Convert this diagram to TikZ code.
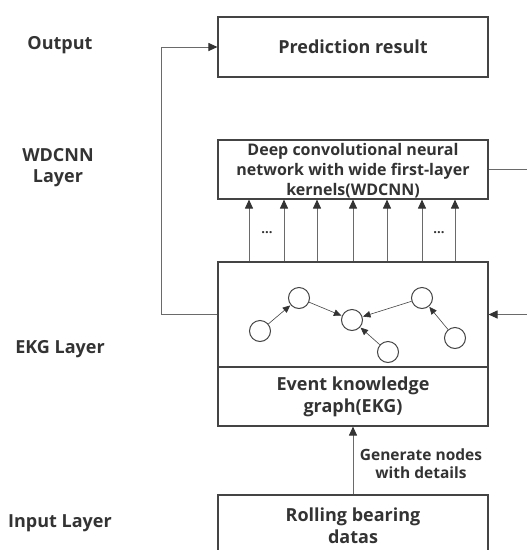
\documentclass[tikz,border=0pt]{standalone}
\usepackage{fontspec}
\setmainfont{Open Sans}
\usetikzlibrary{arrows.meta}
\definecolor{txt}{HTML}{333333}
\definecolor{edge}{HTML}{444444}
\definecolor{ln}{HTML}{6A6A6A}
\definecolor{tip}{HTML}{333333}
\begin{document}
\begin{tikzpicture}[x=1pt,y=-1pt,
  every node/.style={font=\bfseries\fontsize{18}{22}\selectfont, text=txt},
  box/.style={draw=edge, line width=1.1pt, minimum width=270pt, inner sep=0pt, align=center},
  lbl/.style={align=center},
  arr/.style={draw=ln, line width=1pt, -{Triangle[length=9pt,width=8pt,color=tip]}},
  plain/.style={draw=ln, line width=1pt},
  gnode/.style={draw=edge, circle, line width=1pt, minimum size=21pt, inner sep=0pt},
  garr/.style={draw=edge, line width=0.6pt, -{Triangle[length=7.5pt,width=6.5pt,color=tip]}, shorten >=0.5pt}
]
\clip (0,0) rectangle (527,550);
\fill[white] (0,0) rectangle (527,550);

% left labels
\node[lbl] (lout) at (60,45) {Output};
\node[lbl, font=\bfseries\fontsize{18}{21}\selectfont] (lwd) at (58,168) {WDCNN\\Layer};
\node[lbl] (lekg) at (60,349) {EKG Layer};
\node[lbl] (lin) at (60,523) {Input Layer};

% boxes
\node[box, minimum height=60pt] (pred) at (353,47) {Prediction result};
\node[box, minimum height=59pt] (wdcnn) at (353,169.5) {};
\node[lbl, font=\bfseries\fontsize{16}{20}\selectfont] (wdtxt) at (353,171) {Deep convolutional neural\\network with wide first-layer\\kernels(WDCNN)};
\node[box, minimum height=105pt] (ekgtop) at (353,314.5) {};
\node[box, minimum height=59pt] (ekgbot) at (353,396.5) {Event knowledge\\graph(EKG)};
\node[box, minimum height=62pt] (inp) at (353,526) {Rolling bearing\\datas};

% arrows from EKG to WDCNN
\foreach \xx in {249,284,317,353,387,422,455}{
  \draw[arr] (ekgtop.north -| \xx,0) -- (wdcnn.south -| \xx,0);
}
\node[font=\bfseries\fontsize{13}{15}\selectfont] (d1) at (267,233) {...};
\node[font=\bfseries\fontsize{13}{15}\selectfont] (d2) at (439,233) {...};

% feedback line
\draw[arr] (ekgtop.west) -- ++(-56,0) |- (pred.west);

% right side lines
\coordinate (r1) at (527,169.5);
\coordinate (r2) at (527,314.5);
\draw[plain] (wdcnn.east) -- (r1);
\draw[arr] (r2) -- (ekgtop.east);

% input arrow
\draw[arr] (inp.north) -- (ekgbot.south);
\node[lbl, font=\bfseries\fontsize{15.5}{18}\selectfont] (gen) at (421,464) {Generate nodes\\with details};

% graph
\node[gnode] (n1) at (260,331) {};
\node[gnode] (n2) at (299,298) {};
\node[gnode] (n3) at (352,320) {};
\node[gnode] (n4) at (388,352) {};
\node[gnode] (n5) at (422,298) {};
\node[gnode] (n6) at (455,338) {};
\draw[garr] (n1) -- (n2);
\draw[garr] (n2) -- (n3);
\draw[garr] (n5) -- (n3);
\draw[garr] (n4) -- (n3);
\draw[garr] (n6) -- (n5);
\end{tikzpicture}
\end{document}
